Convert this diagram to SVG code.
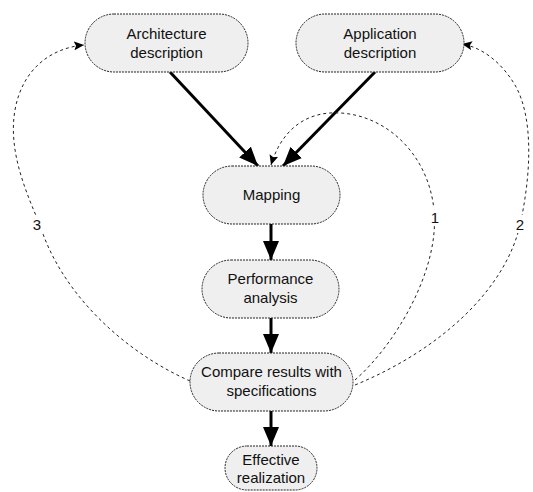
<svg xmlns="http://www.w3.org/2000/svg" width="533" height="492" viewBox="0 0 533 492">
<style>
.node{fill:#efefef;stroke:#222;stroke-width:1;stroke-dasharray:2,1}
.t{font-family:"Liberation Sans",Arial,sans-serif;font-size:15px;fill:#111;text-anchor:middle}
.solid{stroke:#000;stroke-width:3;fill:none}
.dash{stroke:#222;stroke-width:1;fill:none;stroke-dasharray:3,3}
.lbl{font-family:"Liberation Sans",Arial,sans-serif;font-size:15px;fill:#111;text-anchor:middle}
</style>
<defs>
<marker id="big" markerUnits="userSpaceOnUse" markerWidth="20" markerHeight="16" refX="19" refY="8" orient="auto">
<path d="M0,0 L19,8 L0,16 Z" fill="#000"/>
</marker>
<marker id="small" markerUnits="userSpaceOnUse" markerWidth="11" markerHeight="9" refX="10" refY="4.5" orient="auto">
<path d="M0,0 L10,4.5 L0,9 L2,4.5 Z" fill="#000"/>
</marker>
</defs>
<g id="connectors">
<line class="solid" x1="170" y1="72" x2="258" y2="166" marker-end="url(#big)"/>
<line class="solid" x1="375" y1="72" x2="283" y2="166" marker-end="url(#big)"/>
<line class="solid" x1="271" y1="224" x2="271" y2="260" marker-end="url(#big)"/>
<line class="solid" x1="271" y1="318" x2="271" y2="353" marker-end="url(#big)"/>
<line class="solid" x1="271" y1="411" x2="271" y2="446" marker-end="url(#big)"/>
<path class="dash" d="M355,380 C395,345 440,270 434,210 C428,150 380,110 330,113 C300,115 280,135 271,165" marker-end="url(#small)"/>
<path class="dash" d="M355,385 C440,350 505,290 520,225 C530,180 535,120 515,85 C500,60 480,47 462,44" marker-end="url(#small)"/>
<path class="dash" d="M190,381 C120,350 60,290 40,225 C25,190 8,150 15,110 C22,70 50,48 84,45" marker-end="url(#small)"/>
<rect x="429" y="208" width="12" height="18" fill="#fff"/>
<text class="lbl" x="435" y="223">1</text>
<rect x="514" y="215" width="12" height="18" fill="#fff"/>
<text class="lbl" x="520" y="230">2</text>
<rect x="31" y="215" width="12" height="18" fill="#fff"/>
<text class="lbl" x="37" y="230">3</text>
</g>
<g id="arch">
<rect class="node" x="85" y="14" width="163" height="58" rx="29"/>
<text class="t" x="166.5" y="39">Architecture</text>
<text class="t" x="166.5" y="58">description</text>
</g>
<g id="app">
<rect class="node" x="296" y="14" width="168" height="58" rx="29"/>
<text class="t" x="380" y="39">Application</text>
<text class="t" x="380" y="58">description</text>
</g>
<g id="mapping">
<rect class="node" x="203" y="166" width="137" height="58" rx="29"/>
<text class="t" x="271.5" y="200">Mapping</text>
</g>
<g id="perf">
<rect class="node" x="202" y="260" width="137" height="58" rx="29"/>
<text class="t" x="270.5" y="284">Performance</text>
<text class="t" x="270.5" y="303">analysis</text>
</g>
<g id="compare">
<rect class="node" x="190" y="353" width="163" height="58" rx="29"/>
<text class="t" x="271.5" y="377">Compare results with</text>
<text class="t" x="271.5" y="396">specifications</text>
</g>
<g id="effective">
<rect class="node" x="225" y="446" width="92" height="44" rx="22"/>
<text class="t" x="271" y="465">Effective</text>
<text class="t" x="271" y="483">realization</text>
</g>
</svg>
